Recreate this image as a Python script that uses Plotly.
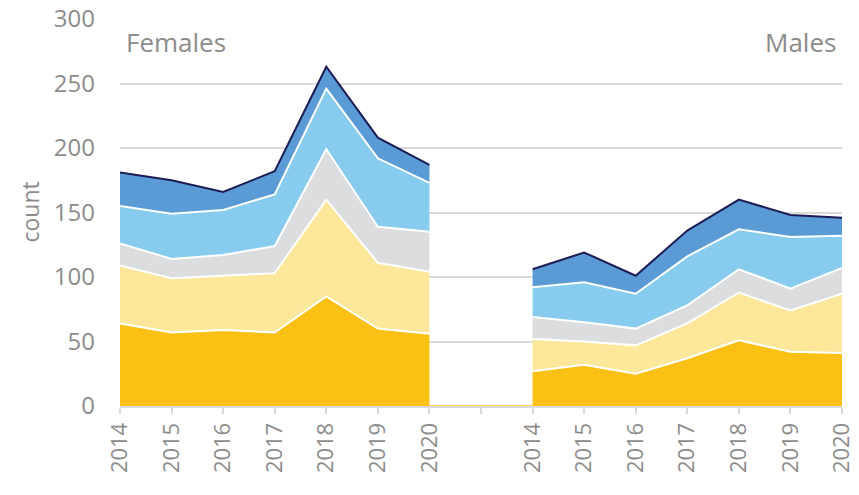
import plotly.graph_objects as go

years = ["2014", "2015", "2016", "2017", "2018", "2019", "2020"]
series_names = ["S1", "S2", "S3", "S4", "S5"]

# Females (individual layer values, bottom to top)
fem_s1 = [64, 57, 59, 57, 85, 60, 56]
fem_s2 = [45, 42, 42, 46, 75, 51, 48]
fem_s3 = [17, 15, 16, 21, 39, 28, 31]
fem_s4 = [29, 35, 35, 40, 47, 53, 38]
fem_s5 = [26, 26, 14, 18, 17, 16, 14]

# Males (individual layer values, bottom to top)
mal_s1 = [27, 32, 25, 37, 51, 42, 41]
mal_s2 = [25, 18, 22, 27, 37, 32, 46]
mal_s3 = [17, 15, 13, 14, 18, 17, 20]
mal_s4 = [23, 31, 27, 38, 31, 40, 25]
mal_s5 = [14, 23, 14, 20, 23, 17, 14]

colors = ["#FBC014", "#FCE79B", "#DCDDDF", "#87CCEE", "#5B9BD5"]
line_colors = ["white", "white", "white", "white", "#1C1C55"]

fem_x = list(range(0, 7))
mal_x = list(range(8, 15))

fig = go.Figure()

for grp, xs, data in [("f", fem_x, [fem_s1, fem_s2, fem_s3, fem_s4, fem_s5]),
                      ("m", mal_x, [mal_s1, mal_s2, mal_s3, mal_s4, mal_s5])]:
    for i, vals in enumerate(data):
        fig.add_trace(go.Scatter(
            x=xs, y=vals, stackgroup=grp, mode="lines",
            fillcolor=colors[i],
            line=dict(color=line_colors[i], width=2),
            name=series_names[i], showlegend=False, hoverinfo="skip",
        ))

# thin zero line across the gap
fig.add_trace(go.Scatter(x=[6, 8], y=[0, 0], mode="lines",
                         line=dict(color="#FBC014", width=1.5),
                         showlegend=False, hoverinfo="skip"))

tickvals = list(range(0, 15))
ticktext = years + [""] + years

font_family = "Open Sans"
grey = "#8C8C8C"

fig.update_layout(
    width=859, height=495,
    margin=dict(l=120, r=17, t=19, b=89),
    paper_bgcolor="white", plot_bgcolor="white",
    font=dict(family=font_family, color=grey, size=22),
    xaxis=dict(
        range=[0, 14], tickvals=tickvals, ticktext=ticktext,
        tickangle=-90, showgrid=False, zeroline=False, automargin=False,
        showline=True, linecolor="#D9D9D9", linewidth=2,
        ticks="outside", ticklen=6, tickcolor="#D9D9D9", tickwidth=2,
        tickfont=dict(size=22, color=grey), ticklabeloverflow="allow",
    ),
    yaxis=dict(
        range=[0, 300], dtick=50, showgrid=True, gridcolor="#D9D9D9",
        gridwidth=2, zeroline=False, showline=False, automargin=False,
        ticklabelstandoff=24, ticklabeloverflow="allow",
        tickfont=dict(size=24, color=grey),
    ),
    annotations=[
        dict(text="count", textangle=-90, xref="paper", yref="paper",
             x=-0.126, y=0.5, xanchor="center", yanchor="middle",
             showarrow=False, font=dict(size=23, color=grey)),
        dict(text="Females", xref="paper", yref="paper", x=0.006, y=0.993,
             xanchor="left", yanchor="top", showarrow=False,
             font=dict(size=26, color=grey)),
        dict(text="Males", xref="paper", yref="paper", x=0.994, y=0.993,
             xanchor="right", yanchor="top", showarrow=False,
             font=dict(size=26, color=grey)),
    ],
)

# remove the browser's default body margin so the figure fills the window
fig.write_html("out.html",
               config={"displayModeBar": False},
               post_script="document.body.style.margin='0';document.body.style.overflow='hidden';")
